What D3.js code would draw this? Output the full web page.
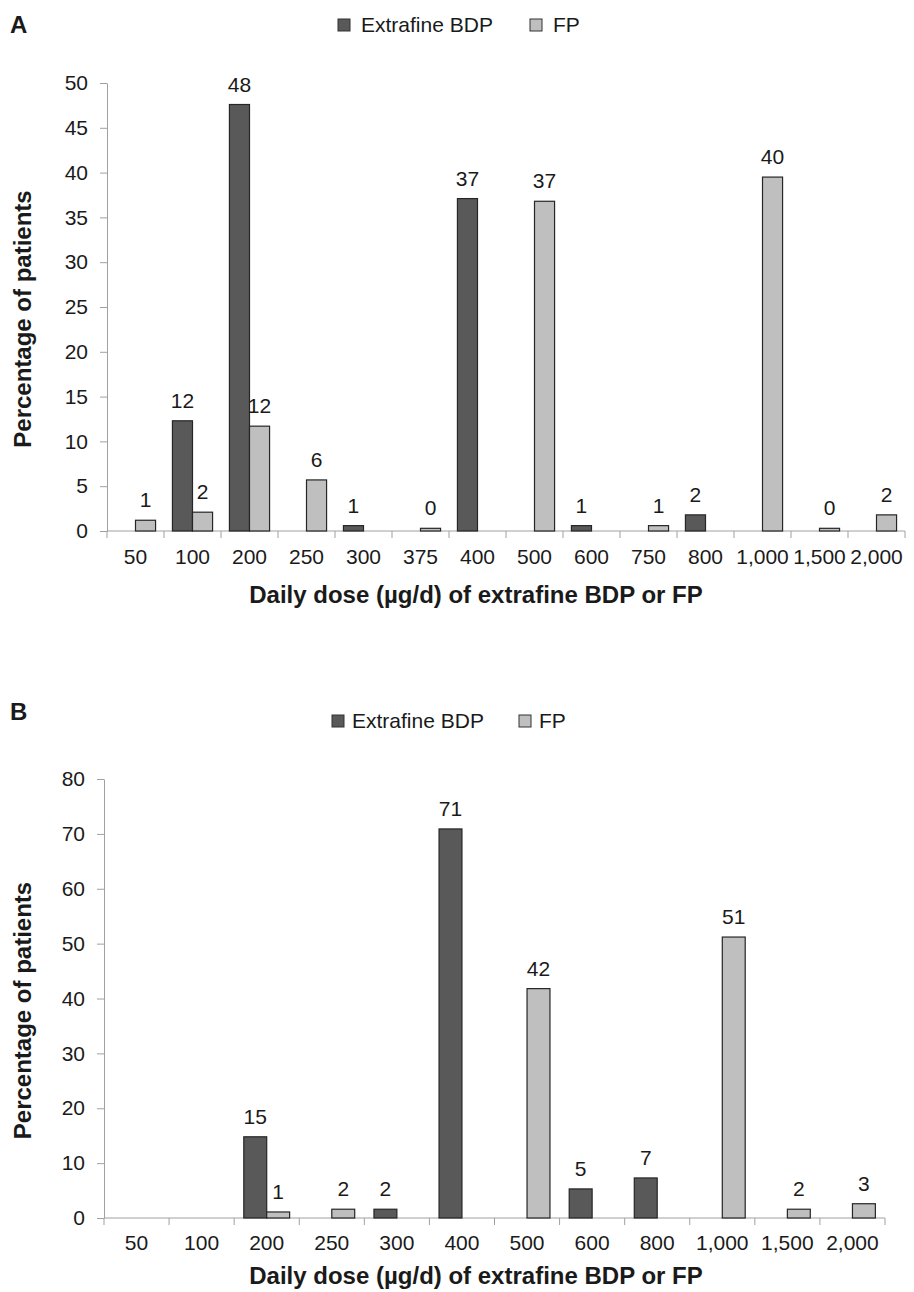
<!DOCTYPE html>
<html>
<head>
<meta charset="utf-8">
<script src="https://cdn.jsdelivr.net/npm/d3@7"></script>
<style>
  body { margin: 0; background: #fff; }
  svg { font-family: "Liberation Sans", Arial, sans-serif; }
</style>
</head>
<body>
<svg id="chart" width="914" height="1292"></svg>
<script>
const seriesNames = ['Extrafine BDP', 'FP'];

const dosesA = ['50', '100', '200', '250', '300', '375', '400', '500', '600', '750', '800', '1,000', '1,500', '2,000'];
const bdpA = [null, 12.3, 47.6, null, 0.6, null, 37.1, null, 0.6, null, 1.8, null, null, null];
const fpA = [1.2, 2.1, 11.7, 5.7, null, 0.3, null, 36.8, null, 0.6, null, 39.5, 0.3, 1.8];
const yTicksA = [0, 5, 10, 15, 20, 25, 30, 35, 40, 45, 50];

const dosesB = ['50', '100', '200', '250', '300', '400', '500', '600', '800', '1,000', '1,500', '2,000'];
const bdpB = [null, null, 14.8, null, 1.6, 70.9, null, 5.3, 7.3, null, null, null];
const fpB = [null, null, 1.1, 1.6, null, null, 41.8, null, null, 51.2, 1.6, 2.6];
const yTicksB = [0, 10, 20, 30, 40, 50, 60, 70, 80];

const colors = ['#595959', '#bfbfbf'];
const axisColor = '#a0a0a0';
const textColor = '#1a1a1a';
const fmt = d3.format('.0f');

const svg = d3.select('#chart');

function drawPanel(opts) {
	const g = svg.append('g');
	const x = d3.scaleBand()
		.domain(opts.doses)
		.range([opts.left, opts.right]);
	const inner = d3.scaleBand()
		.domain(seriesNames)
		.range([0, x.bandwidth()])
		.paddingOuter(0.42);
	const y = d3.scaleLinear()
		.domain([0, opts.yMax])
		.range([opts.bottom, opts.top]);

	// panel letter
	g.append('text')
		.attr('x', 10).attr('y', opts.letterY)
		.attr('font-size', 24).attr('font-weight', 'bold')
		.attr('fill', textColor)
		.text(opts.letter);

	// legend
	const legend = g.append('g').attr('transform', `translate(0,${opts.legendY})`);
	seriesNames.forEach((name, i) => {
		legend.append('rect')
			.attr('x', opts.legendX[i]).attr('y', -13)
			.attr('width', 12).attr('height', 12)
			.attr('fill', colors[i]).attr('stroke', '#333').attr('stroke-width', 1);
		legend.append('text')
			.attr('x', opts.legendX[i] + opts.legendGap).attr('y', 0)
			.attr('font-size', 21)
			.attr('fill', textColor)
			.text(name);
	});

	// y axis
	const yAxis = g.append('g')
		.attr('transform', `translate(${opts.left},0)`)
		.call(d3.axisLeft(y).tickValues(opts.yTicks).tickSize(7).tickPadding(12).tickSizeOuter(0));
	yAxis.select('.domain').attr('stroke', axisColor);
	yAxis.selectAll('line').attr('stroke', axisColor);
	yAxis.selectAll('text')
		.attr('font-size', 21)
		.attr('fill', textColor)
		.attr('font-family', 'Liberation Sans, Arial, sans-serif');

	// x axis: ticks at category boundaries
	const xAxis = g.append('g').attr('transform', `translate(0,${opts.bottom})`);
	xAxis.append('line')
		.attr('x1', opts.left).attr('x2', opts.right)
		.attr('stroke', axisColor);
	const boundaries = opts.doses.map(d => x(d)).concat([opts.right]);
	xAxis.selectAll('.tick')
		.data(boundaries)
		.join('line')
		.attr('x1', d => d).attr('x2', d => d)
		.attr('y1', 0).attr('y2', 7)
		.attr('stroke', axisColor);
	xAxis.selectAll('.lbl')
		.data(opts.doses)
		.join('text')
		.attr('x', d => x(d) + x.bandwidth() / 2)
		.attr('y', opts.tickLabelDy)
		.attr('text-anchor', 'middle')
		.attr('font-size', 21)
		.attr('fill', textColor)
		.text(d => d);

	// axis titles
	g.append('text')
		.attr('x', 476).attr('y', opts.xTitleY)
		.attr('text-anchor', 'middle')
		.attr('font-size', 24).attr('font-weight', 'bold')
		.attr('fill', textColor)
		.text('Daily dose (\u00b5g/d) of extrafine BDP or FP');
	g.append('text')
		.attr('transform', `translate(31,${(opts.top + opts.bottom) / 2 + 12}) rotate(-90)`)
		.attr('text-anchor', 'middle')
		.attr('font-size', 24).attr('font-weight', 'bold')
		.attr('fill', textColor)
		.text('Percentage of patients');

	// bars
	const rows = [];
	opts.doses.forEach((d, i) => {
		[opts.bdp[i], opts.fp[i]].forEach((v, s) => {
			if (v != null) rows.push({ dose: d, series: seriesNames[s], value: v, s });
		});
	});
	g.selectAll('.bar')
		.data(rows)
		.join('rect')
		.attr('x', d => x(d.dose) + inner(d.series))
		.attr('y', d => y(d.value))
		.attr('width', inner.bandwidth())
		.attr('height', d => y(0) - y(d.value))
		.attr('fill', d => colors[d.s])
		.attr('stroke', '#262626')
		.attr('stroke-width', 1.2);
	g.selectAll('.val')
		.data(rows)
		.join('text')
		.attr('x', d => x(d.dose) + inner(d.series) + inner.bandwidth() / 2)
		.attr('y', d => y(d.value) - 13)
		.attr('text-anchor', 'middle')
		.attr('font-size', 21)
		.attr('fill', textColor)
		.text(d => fmt(d.value));
}

drawPanel({
	letter: 'A', letterY: 33, legendY: 32, legendX: [338, 530], legendGap: 23,
	doses: dosesA, bdp: bdpA, fp: fpA, yTicks: yTicksA, yMax: 50,
	left: 107, right: 905, top: 83, bottom: 531, tickLabelDy: 33, xTitleY: 603
});

drawPanel({
	letter: 'B', letterY: 720, legendY: 728, legendX: [332, 519], legendGap: 20,
	doses: dosesB, bdp: bdpB, fp: fpB, yTicks: yTicksB, yMax: 80,
	left: 104, right: 885, top: 779, bottom: 1218, tickLabelDy: 32, xTitleY: 1284
});
</script>
</body>
</html>
